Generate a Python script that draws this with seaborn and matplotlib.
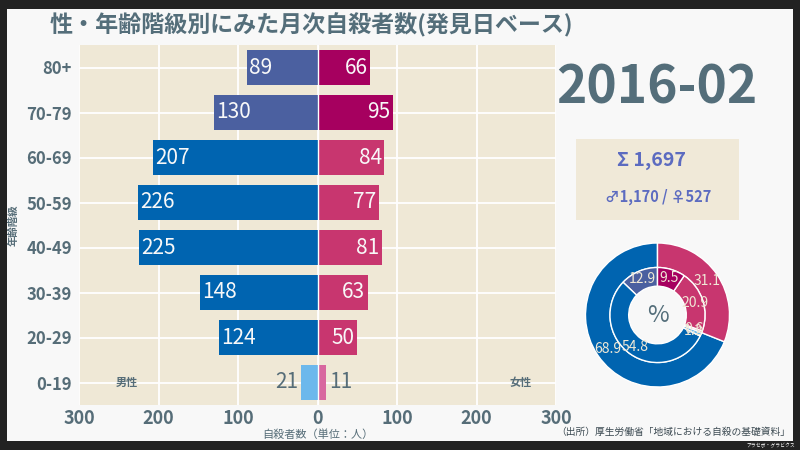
import matplotlib
matplotlib.use("Agg")
import matplotlib.pyplot as plt
from matplotlib.patches import Rectangle
from matplotlib.ticker import FixedLocator, FuncFormatter
import seaborn as sns
import pandas as pd

# ---- data ----
age_groups = ["80+", "70-79", "60-69", "50-59", "40-49", "30-39", "20-29", "0-19"]
male = [89, 130, 207, 226, 225, 148, 124, 21]
female = [66, 95, 84, 77, 81, 63, 50, 11]
month_label = "2016-02"
title = "性・年齢階級別にみた月次自殺者数(発見日ベース)"
x_ticks = [-300, -200, -100, 0, 100, 200, 300]

# ---- colours ----
M_OLD, M_MID, M_YOUNG = "#4b60a0", "#0064b0", "#6cb8ec"
F_OLD, F_MID, F_YOUNG = "#a6005f", "#c8366f", "#d8679f"
male_colors = [M_OLD, M_OLD] + [M_MID] * 5 + [M_YOUNG]
female_colors = [F_OLD, F_OLD] + [F_MID] * 5 + [F_YOUNG]
GRAY = "#566d78"
BEIGE = "#efe8d6"

sns.set_theme(style="darkgrid")
plt.rcParams["font.family"] = ["Noto Sans CJK JP", "DejaVu Sans"]

fig = plt.figure(figsize=(8, 4.5), dpi=100)
fig.patch.set_facecolor("#222222")
fig.add_artist(Rectangle((7 / 800, 9 / 450), 786 / 800, 432 / 450,
                         transform=fig.transFigure, facecolor="#f8f8f8",
                         edgecolor="none", zorder=-10))

ax = fig.add_axes([79 / 800, 45 / 450, 477 / 800, 360 / 450])
ax.set_facecolor(BEIGE)

df = pd.DataFrame({"age": age_groups, "male": [-v for v in male], "female": female})
sns.barplot(data=df, x="male", y="age", hue="age", order=age_groups,
            palette=dict(zip(age_groups, male_colors)), legend=False,
            width=0.78, ax=ax, saturation=1, zorder=3, linewidth=0)
sns.barplot(data=df, x="female", y="age", hue="age", order=age_groups,
            palette=dict(zip(age_groups, female_colors)), legend=False,
            width=0.78, ax=ax, saturation=1, zorder=3, linewidth=0)
ax.axvline(0, color="white", linewidth=1, zorder=4)

ax.set_xlim(-300, 300)
ax.set_ylim(7.5, -0.5)
ax.xaxis.set_major_locator(FixedLocator(x_ticks))
ax.xaxis.set_major_formatter(FuncFormatter(lambda v, p: f"{abs(int(v))}"))
ax.grid(True, color="white", linewidth=1.3)
for s in ax.spines.values():
    s.set_visible(False)
ax.tick_params(axis="x", length=0, labelsize=13, labelcolor=GRAY, pad=3)
ax.tick_params(axis="y", length=3, color="#aab4b8", labelsize=12, labelcolor=GRAY, pad=2)
for lab in ax.get_xticklabels() + ax.get_yticklabels():
    lab.set_fontweight("bold")
ax.set_xlabel("自殺者数（単位：人）", fontsize=8, color=GRAY, labelpad=1)
ax.set_ylabel("年齢階級", fontsize=7.5, color=GRAY, fontweight="bold", labelpad=6)

# bar labels
for i, (m, f) in enumerate(zip(male, female)):
    if m >= 40:
        ax.text(-m + 3, i, f"{m}", ha="left", va="center", fontsize=15,
                color="#f8f8f8", zorder=5)
    else:
        ax.text(-m - 3, i, f"{m}", ha="right", va="center", fontsize=15,
                color=GRAY, zorder=5)
    if f >= 40:
        ax.text(f - 3, i, f"{f}", ha="right", va="center", fontsize=15,
                color="#f8f8f8", zorder=5)
    else:
        ax.text(f + 3, i, f"{f}", ha="left", va="center", fontsize=15,
                color=GRAY, zorder=5)

ax.text(-240, 7, "男性", ha="center", va="center", fontsize=8, color=GRAY, fontweight="bold")
ax.text(255, 7, "女性", ha="center", va="center", fontsize=8, color=GRAY, fontweight="bold")

# title & month
fig.text(50 / 800, 1 - 25 / 450, title, ha="left", va="center", fontsize=16.6,
         fontweight="bold", color="#546e7a")
fig.text(657 / 800, 1 - 88 / 450, month_label, ha="center", va="center", fontsize=37,
         fontweight="bold", color="#546e7a")

# summary box
tot_m, tot_f = sum(male), sum(female)
total = tot_m + tot_f
fig.add_artist(Rectangle((576 / 800, 1 - 220 / 450), 163 / 800, 81 / 450,
                         transform=fig.transFigure, facecolor="#f0e9d8",
                         edgecolor="none", zorder=-5))
fig.text(651 / 800, 1 - 161 / 450, f"Σ {total:,}", ha="center", va="center",
         fontsize=14, fontweight="bold", color="#5c6bc0")
fig.text(658 / 800, 1 - 197 / 450, f"♂{tot_m:,} / ♀{tot_f:,}", ha="center", va="center",
         fontsize=10.5, fontweight="bold", color="#5c6bc0")

# donut
ax2 = fig.add_axes([(657.5 - 72) / 800, (450 - 315 - 72) / 450, 144 / 800, 144 / 450])
inner_vals = [sum(male[:2]), sum(male[2:7]), male[7], female[7], sum(female[2:7]), sum(female[:2])]
inner_cols = [M_OLD, M_MID, M_YOUNG, F_YOUNG, F_MID, F_OLD]
lbl = dict(color="#efe8d6", fontsize=10)
ax2.pie([tot_m, tot_f], radius=1, startangle=90, colors=[M_MID, F_MID],
        autopct="%.1f", pctdistance=0.84, textprops=lbl,
        wedgeprops=dict(width=0.34, edgecolor="white", linewidth=1))
ax2.pie(inner_vals, radius=0.66, startangle=90, colors=inner_cols,
        autopct="%.1f", pctdistance=0.82, textprops=lbl,
        wedgeprops=dict(width=0.26, edgecolor="white", linewidth=1))
ax2.text(0, 0, "%", ha="center", va="center", fontsize=17, color="#546e7a")
ax2.set_xlim(-1, 1)
ax2.set_ylim(-1, 1)
ax2.set_aspect("equal")
ax2.axis("off")

fig.text(790 / 800, 1 - 432 / 450, "（出所）厚生労働省「地域における自殺の基礎資料」",
         ha="right", va="center", fontsize=7, color="#3c4a52")
fig.text(795 / 800, 1 - 446 / 450, "アラセボ・グラビクス", ha="right", va="center",
         fontsize=3.5, color="white")

fig.savefig("out.png", dpi=100, facecolor=fig.get_facecolor())
